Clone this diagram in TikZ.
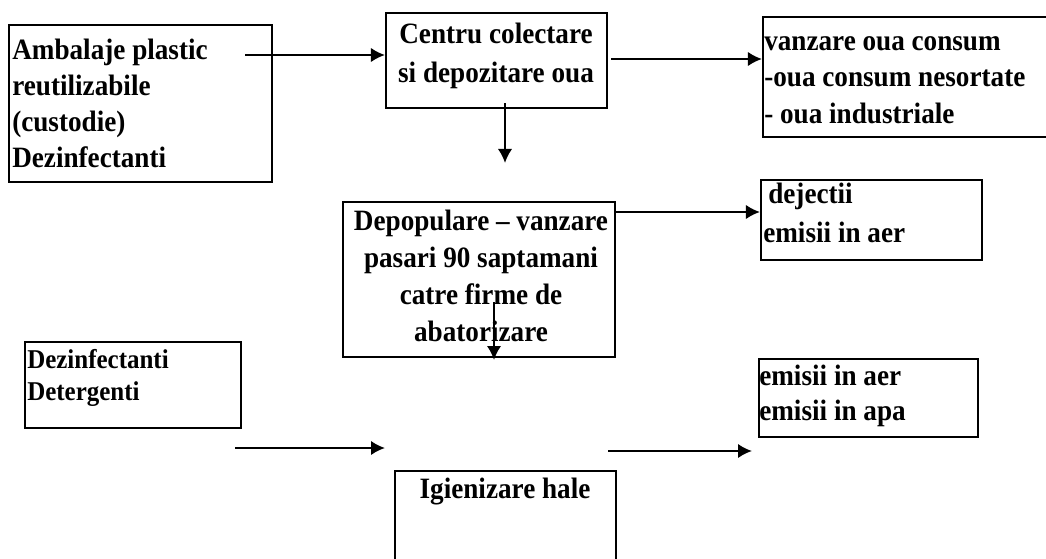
\documentclass[tikz,border=0pt]{standalone}
\usepackage{fontspec}
\setmainfont{Liberation Serif}[FakeStretch=0.92]
\usetikzlibrary{fit,arrows.meta}

\begin{document}
\begin{tikzpicture}[x=0.025cm, y=-0.025cm,
        box/.style={draw=black, line width=1.5pt, inner sep=0pt, fit={#1}},
        txt/.style={font=\bfseries\fontsize{21}{25}\selectfont, inner sep=0pt, anchor=base west},
        smalltxt/.style={txt, font=\bfseries\fontsize{19.3}{23}\selectfont},
        arr/.style={black, line width=1.5pt, >={Latex[length=0.35cm, width=0.36cm]}, ->}]
    \path[use as bounding box, fill=white] (0,0) rectangle (1046,559);

    % boxes
    \node[box={(9,25) (272,182)}] (amb) {};
    \node[box={(386,13) (607,108)}] (ctr) {};
    \node[box={(763,17) (1070,137)}] (vanz) {};
    \node[box={(343,202) (615,357)}] (depop) {};
    \node[box={(761,180) (982,260)}] (dej) {};
    \node[box={(25,342) (241,428)}] (dez) {};
    \node[box={(395,471) (616,580)}] (igien) {};
    \node[box={(759,359) (978,437)}] (emis) {};

    % texts
    \foreach \t [count=\i from 0] in {Ambalaje plastic, reutilizabile, (custodie), Dezinfectanti} {
        \node[txt] (amb-\i) at (12, 59+36.3*\i) {\t};
    }
    \foreach \t [count=\i from 0] in {Centru colectare, si depozitare oua} {
        \node[txt, anchor=base] (ctr-\i) at (496, 43+39*\i) {\t};
    }
    \foreach \t [count=\i from 0] in {vanzare oua consum, -oua consum nesortate, - oua industriale} {
        \node[txt] (vanz-\i) at (764, 50+36.5*\i) {\t};
    }
    \foreach \t [count=\i from 0] in {Depopulare -- vanzare, pasari 90 saptamani, catre firme de, abatorizare} {
        \node[txt, anchor=base] (depop-\i) at (481, 230+37.3*\i) {\t};
    }
    \foreach \x/\t [count=\i from 0] in {768/dejectii, 763/emisii in aer} {
        \node[txt] (dej-\i) at (\x, 203+39*\i) {\t};
    }
    \foreach \t [count=\i from 0] in {Dezinfectanti, Detergenti} {
        \node[smalltxt] (dez-\i) at (27, 368+32*\i) {\t};
    }
    \node[txt, anchor=base] (igien-0) at (505, 498) {Igienizare hale};
    \foreach \t [count=\i from 0] in {emisii in aer, emisii in apa} {
        \node[txt] (emis-\i) at (759, 385+35*\i) {\t};
    }

    % arrows
    \coordinate (amb-out) at (245,55);
    \draw[arr] (amb-out) -- (amb-out -| ctr.west);
    \coordinate (ctr-out) at (611,59);
    \draw[arr] (ctr-out) -- (ctr-out -| vanz.west);
    \coordinate (ctr-down) at (505,103);
    \coordinate (ctr-tip) at (505,163);
    \draw[arr] (ctr-down) -- (ctr-tip);
    \coordinate (depop-out) at (615,212);
    \draw[arr] (depop-out) -- (depop-out -| dej.west);
    \coordinate (depop-down) at (494,302);
    \coordinate (depop-tip) at (494,360);
    \draw[arr] (depop-down) -- (depop-tip);
    \coordinate (dez-out) at (235,448);
    \coordinate (igien-in) at (385,448);
    \draw[arr] (dez-out) -- (igien-in);
    \coordinate (igien-out) at (608,451);
    \coordinate (emis-in) at (752,451);
    \draw[arr] (igien-out) -- (emis-in);
\end{tikzpicture}
\end{document}
